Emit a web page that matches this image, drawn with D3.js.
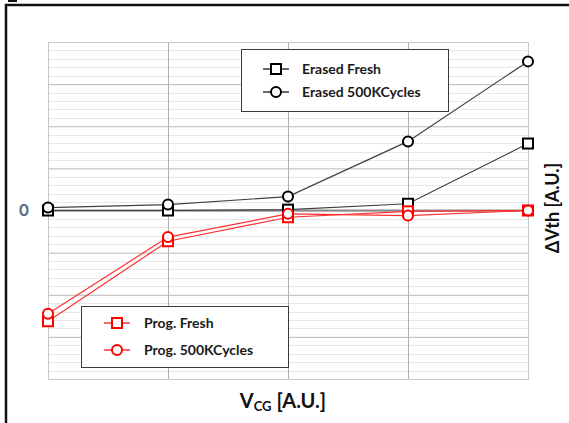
<!DOCTYPE html>
<html>
<head>
<meta charset="utf-8">
<script src="https://cdn.jsdelivr.net/npm/d3@7"></script>
<style>
  body { margin: 0; background: #fff; }
  svg { display: block; font-family: Lato, "Open Sans", sans-serif; }
</style>
</head>
<body>
<svg id="chart" width="569" height="423"></svg>
<script>
const xCats = [1, 2, 3, 4, 5];
const erasedFresh = [0.0, 0.0, 0.02, 0.16, 1.59];
const erased500k = [0.07, 0.14, 0.33, 1.64, 3.54];
const progFresh = [-2.63, -0.73, -0.16, -0.02, 0.0];
const prog500k = [-2.45, -0.63, -0.08, -0.12, 0.0];
const yTickLabels = [0];

const series = [
  { name: "Erased Fresh", values: erasedFresh, color: "#000", line: "#404040", shape: "square" },
  { name: "Erased 500KCycles", values: erased500k, color: "#000", line: "#404040", shape: "circle" },
  { name: "Prog. Fresh", values: progFresh, color: "#ff0000", line: "#ff3030", shape: "square" },
  { name: "Prog. 500KCycles", values: prog500k, color: "#ff0000", line: "#ff3030", shape: "circle" }
];

const svg = d3.select("#chart");
const plot = { left: 48, right: 528, top: 42, bottom: 379 };

const x = d3.scalePoint().domain(xCats).range([plot.left, plot.right]);
const y = d3.scaleLinear().domain([-4, 4]).range([plot.bottom, plot.top]);

// outer frame (left + top edges only visible)
svg.append("path")
  .attr("d", "M6,423 V5 H569")
  .attr("fill", "none")
  .attr("stroke", "#111")
  .attr("stroke-width", 2.5);
svg.append("rect").attr("x", 8).attr("y", 0).attr("width", 9).attr("height", 2).attr("fill", "#111");

// minor grid
const minor = d3.range(-4, 4.001, 0.2).filter(v => Math.abs(v - Math.round(v)) > 0.01);
svg.append("g")
  .selectAll("line")
  .data(minor)
  .join("line")
  .attr("x1", plot.left).attr("x2", plot.right)
  .attr("y1", d => Math.round(y(d)) + 0.5).attr("y2", d => Math.round(y(d)) + 0.5)
  .attr("stroke", "#e8e8e8");

// major grid
svg.append("g")
  .attr("transform", `translate(${plot.left},0)`)
  .call(d3.axisLeft(y).tickValues(d3.range(-4, 5, 1)).tickSize(-(plot.right - plot.left)).tickFormat(""))
  .call(g => g.select(".domain").remove())
  .call(g => g.selectAll(".tick line").attr("stroke", "#b8b8b8"));

svg.append("g")
  .attr("transform", `translate(0,${plot.bottom})`)
  .call(d3.axisBottom(x).tickSize(-(plot.bottom - plot.top)).tickFormat(""))
  .call(g => g.select(".domain").remove())
  .call(g => g.selectAll(".tick line").attr("stroke", "#b0b0b0"));

svg.append("rect")
  .attr("x", plot.left + 0.5).attr("y", plot.top + 0.5)
  .attr("width", plot.right - plot.left).attr("height", plot.bottom - plot.top)
  .attr("fill", "none").attr("stroke", "#c8c8c8");

// zero axis line
svg.append("line")
  .attr("x1", plot.left).attr("x2", plot.right)
  .attr("y1", y(0)).attr("y2", y(0))
  .attr("stroke", "#8a8a8a").attr("stroke-width", 2);

// y tick label
svg.append("g")
  .selectAll("text")
  .data(yTickLabels)
  .join("text")
  .attr("x", 24).attr("y", d => y(d))
  .attr("dy", "0.35em")
  .attr("text-anchor", "middle")
  .attr("font-size", 17).attr("font-weight", "bold")
  .attr("fill", "#5b6b82")
  .text(d => d);

// series
const line = d3.line().x((d, i) => x(xCats[i])).y(d => y(d));

function marker(g, shape, color, cx, cy) {
  if (shape === "square") {
    g.append("rect")
      .attr("x", cx - 5).attr("y", cy - 5).attr("width", 10).attr("height", 10)
      .attr("fill", "#fff").attr("stroke", color).attr("stroke-width", 2);
  } else {
    g.append("circle")
      .attr("cx", cx).attr("cy", cy).attr("r", 5)
      .attr("fill", "#fff").attr("stroke", color).attr("stroke-width", 2);
  }
}

series.forEach(s => {
  svg.append("path")
    .datum(s.values)
    .attr("d", line)
    .attr("fill", "none")
    .attr("stroke", s.line)
    .attr("stroke-width", 1.2);
});
series.forEach(s => {
  const g = svg.append("g");
  s.values.forEach((v, i) => marker(g, s.shape, s.color, x(xCats[i]), y(v)));
});

// legends
function legend(items, bx, by, bw, bh, symX, textX, rowYs) {
  const g = svg.append("g");
  g.append("rect")
    .attr("x", bx + 0.5).attr("y", by + 0.5).attr("width", bw).attr("height", bh)
    .attr("fill", "#fff").attr("stroke", "#3a3a3a");
  items.forEach((s, i) => {
    const cy = rowYs[i];
    g.append("line")
      .attr("x1", symX - 13).attr("x2", symX + 13).attr("y1", cy).attr("y2", cy)
      .attr("stroke", s.color === "#000" ? "#000" : "#ff0000").attr("stroke-width", 1.2);
    marker(g, s.shape, s.color, symX, cy);
    g.append("text")
      .attr("x", textX).attr("y", cy).attr("dy", "0.35em")
      .attr("font-size", 14).attr("font-weight", "bold").attr("fill", "#1a1a1a")
      .text(s.name);
  });
}
legend(series.slice(0, 2), 241, 49, 207, 62, 276, 302, [69, 92]);
legend(series.slice(2, 4), 81, 306, 207, 61, 117, 144, [323, 350]);

// axis titles
const xt = svg.append("text")
  .attr("x", 283).attr("y", 408)
  .attr("text-anchor", "middle")
  .attr("font-weight", "bold").attr("font-size", 20).attr("fill", "#111");
xt.append("tspan").text("V");
xt.append("tspan").attr("font-size", 13).attr("dy", 3).text("CG");
xt.append("tspan").attr("dy", -3).text(" [A.U.]");

svg.append("text")
  .attr("transform", "translate(553,208) rotate(-90)")
  .attr("text-anchor", "middle").attr("dy", "0.35em")
  .attr("font-weight", "bold").attr("font-size", 18).attr("fill", "#111")
  .text("ΔVth [A.U.]");
</script>
</body>
</html>
